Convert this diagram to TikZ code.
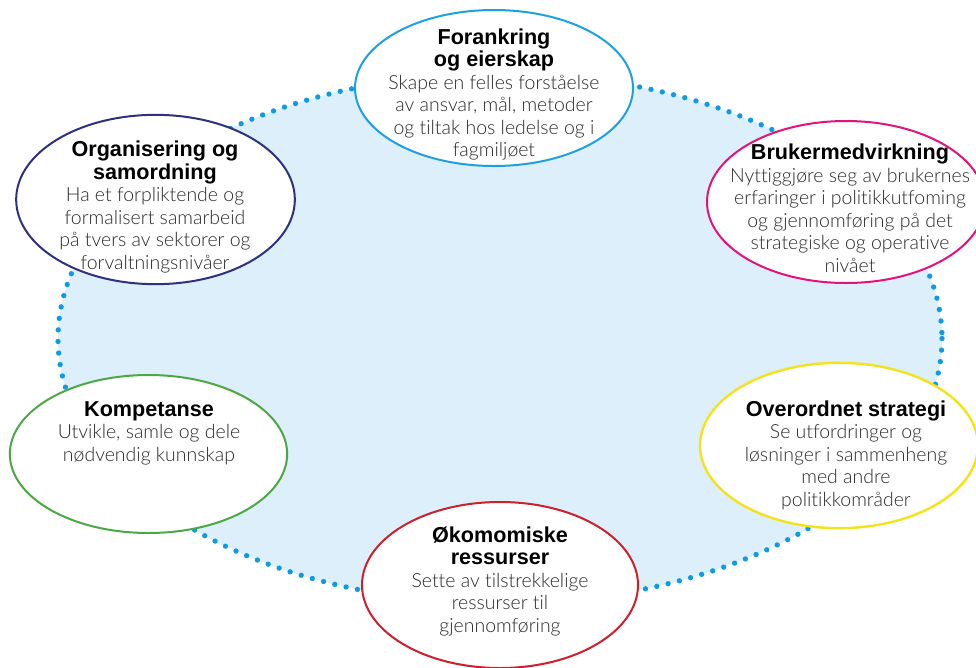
\documentclass[tikz,border=0pt]{standalone}
\usepackage{fontspec}
\setmainfont{Liberation Sans}
\newfontfamily\bodyfam{Lato}[UprightFont=* Light, Ligatures=NoCommon]
\usetikzlibrary{shapes.geometric}
\definecolor{dotblue}{HTML}{0F9BE4}
\definecolor{areafill}{HTML}{DCEFFB}
\definecolor{ctop}{HTML}{1E9FDF}
\definecolor{corg}{HTML}{2E3180}
\definecolor{cbruk}{HTML}{E2137D}
\definecolor{cover}{HTML}{F4E31B}
\definecolor{coko}{HTML}{CD1F2C}
\definecolor{ckomp}{HTML}{4CA844}
\definecolor{bodycol}{HTML}{2A2A2A}
\newcommand\mytitle[1]{{\fontsize{16.2}{16.875}\selectfont\bfseries #1}}
\newcommand\mybody[1]{{\bodyfam\fontsize{14.6}{16.875}\selectfont\color{bodycol}#1}}
\tikzset{
  bubble/.style={ellipse, fill=white, line width=1.5pt, inner sep=0pt, outer sep=0pt},
  txt/.style={align=center, inner sep=0pt, font=\fontsize{15}{16.875}\selectfont}
}
\begin{document}
\begin{tikzpicture}[x=0.75pt,y=-0.75pt]
\useasboundingbox (0,0) rectangle (976,668);
% big dotted area
\path[fill=areafill] (500,338.5) ellipse [x radius=442, y radius=265];
\draw[dotblue, line width=4pt, line cap=round, dash pattern=on 0pt off 8.7pt] (500,338.5) ellipse [x radius=442, y radius=265];
% bubbles
\node[bubble, draw=ctop, minimum width=208.5pt, minimum height=117pt] (top) at (494,88) {};
\node[bubble, draw=corg, minimum width=209pt, minimum height=127pt] (org) at (155.5,199.5) {};
\node[bubble, draw=cbruk, minimum width=208.5pt, minimum height=121.5pt] (bruk) at (846,202) {};
\node[bubble, draw=cover, line width=1.8pt, minimum width=208.5pt, minimum height=124pt] (over) at (839,445.5) {};
\node[bubble, draw=coko, minimum width=207pt, minimum height=124.5pt] (oko) at (500,585) {};
\node[bubble, draw=ckomp, minimum width=208pt, minimum height=118.5pt] (komp) at (148.5,454) {};
% texts
\node[txt] (ttop) at (494,94.5) {\mytitle{Forankring}\\\mytitle{og eierskap}\\\mybody{Skape en felles forståelse}\\\mybody{av ansvar, mål, metoder}\\\mybody{og tiltak hos ledelse og i}\\\mybody{fagmiljøet}};
\node[txt] (torg) at (155,207) {\mytitle{Organisering og}\\\mytitle{samordning}\\\mybody{Ha et forpliktende og}\\\mybody{formalisert samarbeid}\\\mybody{på tvers av sektorer og}\\\mybody{forvaltningsnivåer}};
\node[txt] (tbruk) at (850,208) {\mytitle{Brukermedvirkning}\\\mybody{Nyttiggjøre seg av brukernes}\\\mybody{erfaringer i politikkutfoming}\\\mybody{og gjennomføring på det}\\\mybody{strategiske og operative}\\\mybody{nivået}};
\node[txt] (tover) at (846,455) {\mytitle{Overordnet strategi}\\\mybody{Se utfordringer og}\\\mybody{løsninger i sammenheng}\\\mybody{med andre}\\\mybody{politikkområder}};
\node[txt] (toko) at (500,581) {\mytitle{Økomomiske}\\\mytitle{ressurser}\\\mybody{Sette av tilstrekkelige}\\\mybody{ressurser til}\\\mybody{gjennomføring}};
\node[txt] (tkomp) at (149,433) {\mytitle{Kompetanse}\\\mybody{Utvikle, samle og dele}\\\mybody{nødvendig kunnskap}};
\end{tikzpicture}
\end{document}
